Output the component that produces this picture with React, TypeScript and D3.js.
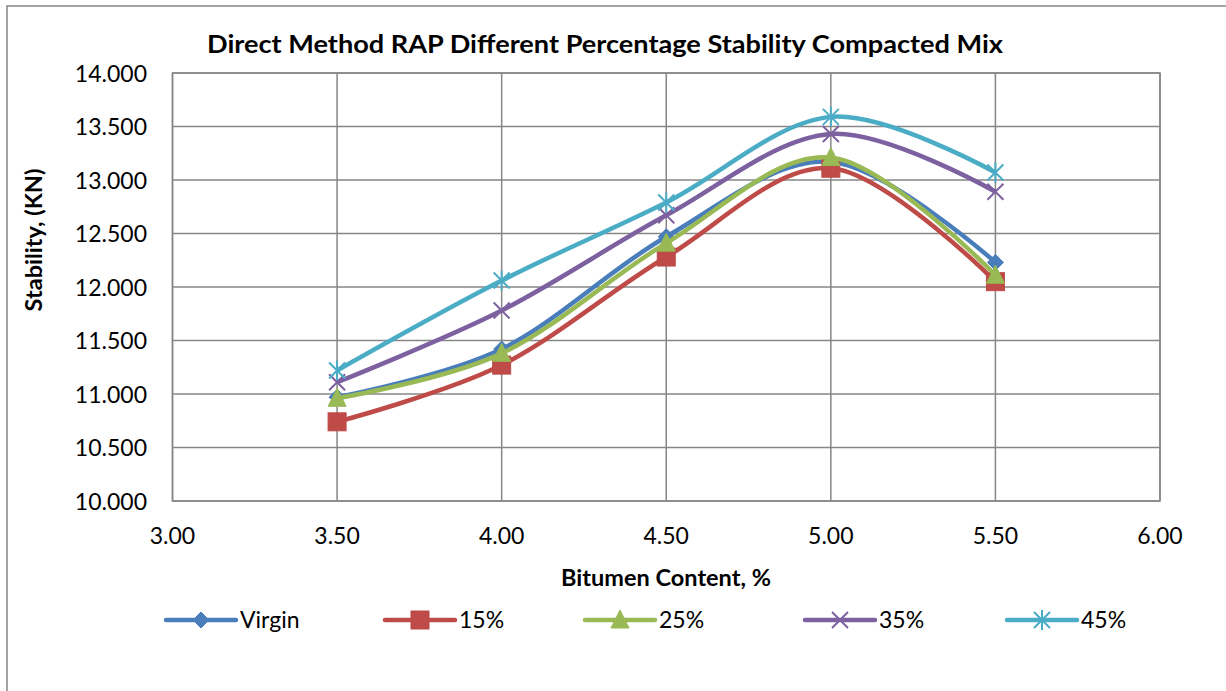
import React from "react";
import * as d3 from "d3";

const bitumen = [3.5, 4.0, 4.5, 5.0, 5.5];
const virgin = [10.97, 11.42, 12.47, 13.17, 12.23];
const rap15 = [10.74, 11.27, 12.28, 13.11, 12.05];
const rap25 = [10.96, 11.38, 12.41, 13.21, 12.11];
const rap35 = [11.11, 11.78, 12.67, 13.43, 12.89];
const rap45 = [11.22, 12.06, 12.79, 13.59, 13.07];
const xTicks = [3.0, 3.5, 4.0, 4.5, 5.0, 5.5, 6.0];
const yTicks = [10, 10.5, 11, 11.5, 12, 12.5, 13, 13.5, 14];
const seriesNames = ["Virgin", "15%", "25%", "35%", "45%"];
const seriesColors = ["#4A7EBB", "#BE4B48", "#98B954", "#7D60A0", "#4BACC6"];
const seriesMarkers = ["diamond", "square", "triangle", "x", "star"];

const FONT = "Lato, 'Open Sans', sans-serif";

function Marker({ type, x, y, color }: { type: string; x: number; y: number; color: string }) {
  if (type === "diamond") {
    const s = 8;
    return <path d={`M${x},${y - s}L${x + s},${y}L${x},${y + s}L${x - s},${y}Z`} fill={color} stroke={color} strokeWidth={1} />;
  }
  if (type === "square") {
    const s = 9;
    return <rect x={x - s} y={y - s} width={2 * s} height={2 * s} fill={color} stroke={color} strokeWidth={1} />;
  }
  if (type === "triangle") {
    const s = 9;
    return <path d={`M${x},${y - s - 1}L${x + s},${y + s - 1}L${x - s},${y + s - 1}Z`} fill={color} stroke={color} strokeWidth={1} />;
  }
  if (type === "x") {
    const s = 8;
    return <path d={`M${x - s},${y - s}L${x + s},${y + s}M${x - s},${y + s}L${x + s},${y - s}`} stroke={color} strokeWidth={2} fill="none" />;
  }
  const s = 8;
  return (
    <path
      d={`M${x - s},${y - s}L${x + s},${y + s}M${x - s},${y + s}L${x + s},${y - s}M${x},${y - s - 2}L${x},${y + s + 2}`}
      stroke={color}
      strokeWidth={2}
      fill="none"
    />
  );
}

export default function App() {
  const W = 1226, H = 691;
  const left = 172.5, right = 1160, top = 73, bottom = 501;
  const x = d3.scaleLinear().domain([3, 6]).range([left, right]);
  const y = d3.scaleLinear().domain([10, 14]).range([bottom, top]);
  const all = [virgin, rap15, rap25, rap35, rap45];
  const line = d3
    .line<number>()
    .x((_, i) => x(bitumen[i]))
    .y((d) => y(d))
    .curve(d3.curveCardinal.tension(0));

  const legendLineStarts = [166, 385, 585, 805, 1007];
  const legendY = 620;
  const legendLen = 70;

  return (
    <div style={{ position: "absolute", left: 0, top: 0 }}>
      <svg width={W} height={H} style={{ display: "block" }}>
        <rect x={0} y={0} width={W} height={H} fill="#fff" />
        <rect x={7} y={6} width={W + 20} height={H + 20} fill="#fff" stroke="#868686" strokeWidth={1.5} />
        <text
          x={605}
          y={53}
          textAnchor="middle"
          fontFamily={FONT}
          fontWeight="bold"
          fontSize={25}
          textLength={796}
          lengthAdjust="spacingAndGlyphs"
          fill="#000"
        >
          Direct Method RAP Different Percentage Stability Compacted Mix
        </text>
        {yTicks.map((t) => (
          <line key={"gy" + t} x1={left} x2={right} y1={y(t)} y2={y(t)} stroke="#868686" strokeWidth={1.5} />
        ))}
        {xTicks.map((t) => (
          <line key={"gx" + t} x1={x(t)} x2={x(t)} y1={top} y2={bottom} stroke="#868686" strokeWidth={1.5} />
        ))}
        <rect x={left} y={top} width={right - left} height={bottom - top} fill="none" stroke="#868686" strokeWidth={1.5} />
        {yTicks.map((t) => (
          <text key={"ly" + t} x={147} y={y(t) + 8.5} textAnchor="end" fontFamily={FONT} fontSize={23} fill="#000">
            {t.toFixed(3)}
          </text>
        ))}
        {xTicks.map((t) => (
          <text key={"lx" + t} x={x(t)} y={544} textAnchor="middle" fontFamily={FONT} fontSize={23} fill="#000">
            {t.toFixed(2)}
          </text>
        ))}
        <text x={666} y={586} textAnchor="middle" fontFamily={FONT} fontWeight="bold" fontSize={23.5} fill="#000">
          Bitumen Content, %
        </text>
        <text
          transform={`translate(42,240) rotate(-90)`}
          textAnchor="middle"
          fontFamily={FONT}
          fontWeight="bold"
          fontSize={23.5}
          fill="#000"
        >
          Stability, (KN)
        </text>
        {all.map((vals, si) => (
          <g key={"s" + si}>
            <path d={line(vals) || ""} fill="none" stroke={seriesColors[si]} strokeWidth={4.5} strokeLinejoin="round" />
            {vals.map((v, i) => (
              <Marker key={i} type={seriesMarkers[si]} x={x(bitumen[i])} y={y(v)} color={seriesColors[si]} />
            ))}
          </g>
        ))}
        {seriesNames.map((n, si) => {
          const x0 = legendLineStarts[si];
          return (
            <g key={"lg" + si}>
              <line x1={x0} x2={x0 + legendLen} y1={legendY} y2={legendY} stroke={seriesColors[si]} strokeWidth={4.5} strokeLinecap="round" />
              <Marker type={seriesMarkers[si]} x={x0 + legendLen / 2} y={legendY} color={seriesColors[si]} />
              <text x={x0 + legendLen + 4} y={legendY + 8} fontFamily={FONT} fontSize={23} fill="#000">
                {n}
              </text>
            </g>
          );
        })}
      </svg>
    </div>
  );
}
